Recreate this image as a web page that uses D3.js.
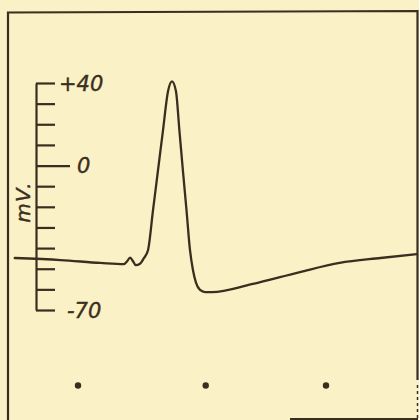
<!DOCTYPE html>
<html>
<head>
<meta charset="utf-8">
<script src="https://cdn.jsdelivr.net/npm/d3@7"></script>
<style>
  html, body { margin: 0; padding: 0; background: #fbf1c7; }
  svg { display: block; }
  text { font-family: "DejaVu Sans", sans-serif; font-style: italic; fill: #3a2e1e; stroke: #3a2e1e; stroke-width: 0.4; }
</style>
</head>
<body>
<svg id="chart" width="419" height="420"></svg>
<script>
// Membrane potential trace (time in arbitrary units, potential in mV)
const traceTime = [0.49, 0.86, 1.18, 1.37, 1.395, 1.42, 1.445, 1.465, 1.50, 1.53, 1.565, 1.605, 1.645, 1.685, 1.726, 1.758, 1.79, 1.818, 1.846, 1.875, 1.903, 1.927, 1.952, 1.984, 2.024, 2.08, 2.40, 2.79, 3.11, 3.44, 3.734];
const traceMV   = [-44.8, -45.8, -47.2, -47.8, -46.5, -44.6, -46.5, -48.3, -47.6, -45.0, -40.9, -21.6, -2.4, 16.8, 36.0, 40.8, 36.0, 16.8, -2.4, -21.6, -40.9, -50.6, -56.9, -60.3, -61.3, -61.3, -57.5, -51.6, -47.2, -44.8, -42.9];

// Scale ticks (mV), labelled ticks and their text
const tickValues = [40, 30, 20, 10, 0, -10, -20, -30, -40, -50, -60, -70];
const labelValues = [40, 0, -70];
const labelTexts = ["+40", "0", "-70"];
const axisTitle = "mV.";

// Time marker dots
const markerTimes = [1, 2.03, 3];

const svg = d3.select("#chart");
const ink = "#3a2e1e";

const x = d3.scaleLinear().domain([1, 3]).range([78, 326]);
const y = d3.scaleLinear().domain([-70, 40]).range([310, 83]);

// Frame
const frame = d3.path();
frame.moveTo(8, 420); frame.lineTo(8, 12.5); frame.lineTo(417.5, 11); frame.lineTo(417.5, 380);
svg.append("path").attr("d", frame.toString())
  .attr("fill", "none").attr("stroke", ink).attr("stroke-width", 2.2);
svg.append("path").attr("d", "M417.5,385V420")
  .attr("fill", "none").attr("stroke", ink).attr("stroke-width", 1.5).attr("stroke-dasharray", "3,3");
svg.append("line").attr("x1", 290).attr("x2", 418).attr("y1", 419).attr("y2", 419)
  .attr("stroke", ink).attr("stroke-width", 2);

// Voltage scale
const axis = d3.axisRight(y).tickValues(tickValues).tickSize(19).tickSizeOuter(0).tickFormat("");
const gAxis = svg.append("g").attr("transform", "translate(36,0)").call(axis);
gAxis.select(".domain").attr("stroke", ink).attr("stroke-width", 2.2);
gAxis.selectAll(".tick line").attr("stroke", ink).attr("stroke-width", 2.2)
  .attr("x2", d => d === 0 ? 34 : 19);

const labelX = {40: 59, 0: 77, "-70": 67};
svg.append("g").selectAll("text").data(labelValues).join("text")
  .attr("x", d => labelX[d])
  .attr("y", d => y(d))
  .attr("dy", "0.36em")
  .attr("font-size", 21)
  .text((d, i) => labelTexts[i]);

svg.append("text")
  .attr("transform", "translate(30,202) rotate(-90)")
  .attr("text-anchor", "middle")
  .attr("font-size", 20)
  .attr("letter-spacing", 1.5)
  .text(axisTitle);

// Trace
const data = traceTime.map((t, i) => [t, traceMV[i]]);
const line = d3.line().x(d => x(d[0])).y(d => y(d[1])).curve(d3.curveMonotoneX);
svg.append("path").datum(data)
  .attr("d", line)
  .attr("fill", "none").attr("stroke", ink).attr("stroke-width", 2.3)
  .attr("stroke-linejoin", "round").attr("stroke-linecap", "round");

// Time markers
svg.append("g").selectAll("circle").data(markerTimes).join("circle")
  .attr("cx", d => x(d)).attr("cy", 385.5).attr("r", 3.2).attr("fill", ink);
</script>
</body>
</html>
